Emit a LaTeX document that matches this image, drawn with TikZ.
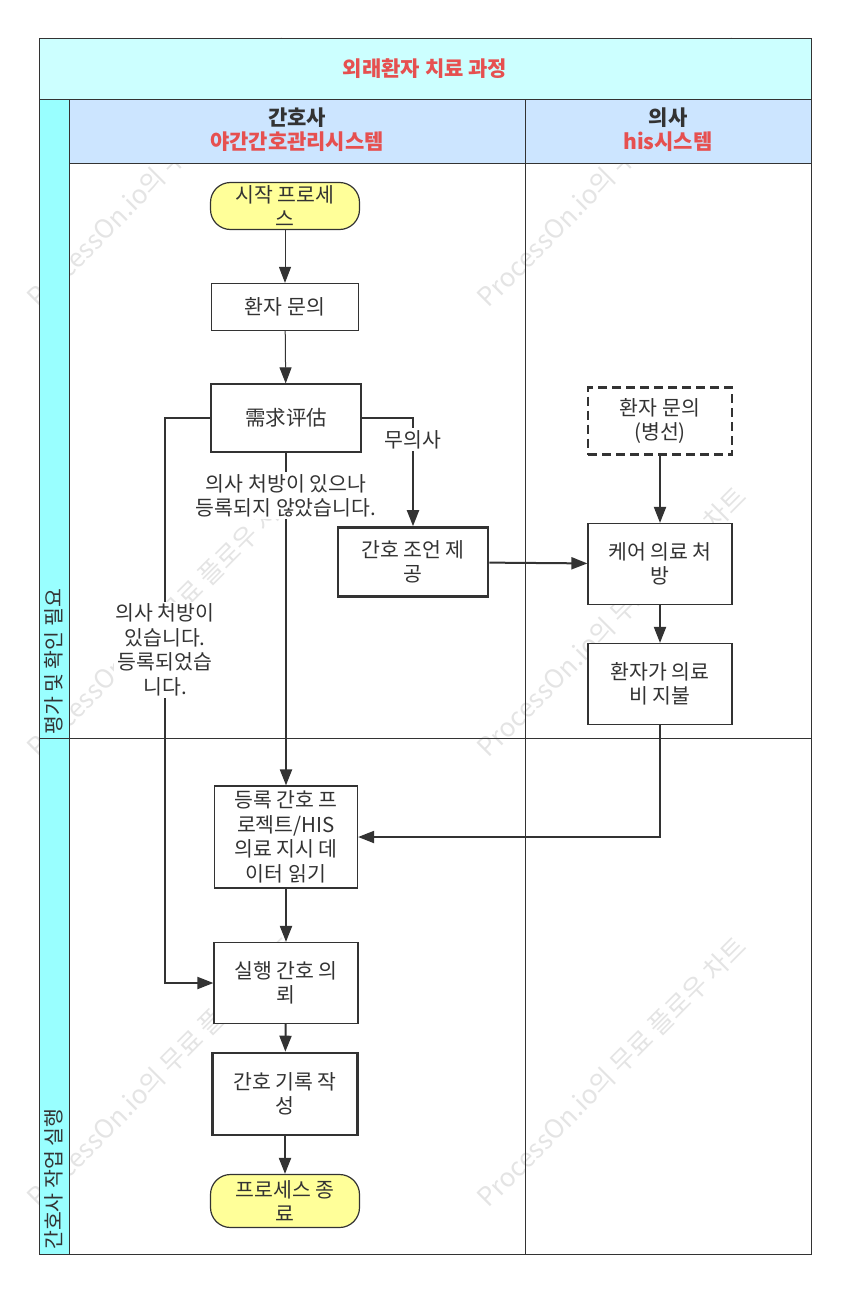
\documentclass[tikz,border=0pt]{standalone}
\usepackage{fontspec}
\setmainfont{Noto Sans CJK KR}
\newfontfamily\hanfont{Noto Sans CJK SC}
\usetikzlibrary{arrows.meta}
\definecolor{TitleCyan}{HTML}{CCFFFF}
\definecolor{StripCyan}{HTML}{99FFFF}
\definecolor{LaneBlue}{HTML}{CCE5FF}
\definecolor{TitleRed}{HTML}{E65050}
\definecolor{StartYellow}{HTML}{FFFF99}
\definecolor{LineDark}{HTML}{333333}
\definecolor{MarkGray}{HTML}{E4E4E4}

\begin{document}
\begin{tikzpicture}[x=1pt, y=-1pt,
  every node/.style={font=\fontsize{20.5}{24.5}\selectfont, text=LineDark, align=center, inner sep=1pt},
  lane/.style={draw=LineDark, line width=1pt},
  stepbox/.style={draw=LineDark, fill=white, line width=1.2pt, minimum width=146, minimum height=81},
  keybox/.style={stepbox, line width=2.6pt},
  ends/.style={stepbox, fill=StartYellow, rounded corners=20pt},
  flow/.style={draw=LineDark, line width=2pt, -{Triangle[length=16pt,width=12pt]}},
  thinflow/.style={flow, line width=1pt},
  cond/.style={fill=white, inner sep=2pt},
  headtext/.style={font=\fontsize{21}{24}\selectfont\bfseries},
  watermarktext/.style={text=MarkGray, rotate=45, anchor=south west, font=\fontsize{26}{30}\selectfont}]
  \useasboundingbox (0,0) rectangle (847,1290);
  % watermark under the lanes
  \foreach \wx in {40,490} {
    \foreach \wy in {312,762,1212} {
      \node[watermarktext] at (\wx,\wy) {ProcessOn.io의 무료 플로우 차트};
    }
  }
  % pool and lanes
  \fill[TitleCyan] (39,39) rectangle (811,99);
  \fill[StripCyan] (39,99) rectangle (69,1254);
  \fill[LaneBlue] (69,99) rectangle (811,163);
  \draw[lane] (39,39) rectangle (811,1254);
  \draw[lane] (39,99) -- (811,99);
  \draw[lane] (69,163) -- (811,163);
  \draw[lane] (69,99) -- (69,1254);
  \draw[lane] (525,99) -- (525,1254);
  \draw[lane] (39,738) -- (811,738);
  \node[headtext, text=TitleRed] (title) at (425,69) {외래환자 치료 과정};
  \node[headtext] (nurse) at (297,130) {간호사\\\textcolor{TitleRed}{야간간호관리시스템}};
  \node[headtext] (doctor) at (668,130) {의사\\\textcolor{TitleRed}{his시스템}};
  \node[rotate=90, anchor=west] (checkrow) at (54,736) {평가 및 확인 필요};
  \node[rotate=90, anchor=west] (workrow) at (54,1251) {간호사 작업 실행};
  % steps
  \node[ends, minimum width=149, minimum height=47] (start) at (285,206) {시작 프로세\\스};
  \node[stepbox, minimum width=147, minimum height=47] (ask) at (285,307) {환자 문의};
  \node[stepbox, minimum width=150, minimum height=68] (assess) at (286,418) {\hanfont 需求评估};
  \node[keybox, minimum width=150, minimum height=69] (advice) at (413,562) {간호 조언 제\\공};
  \node[keybox, dash pattern=on 9pt off 5pt, minimum width=144, minimum height=67] (ward) at (660,421) {환자 문의\\(병선)};
  \node[stepbox, minimum width=144] (order) at (660,564) {케어 의료 처\\방};
  \node[stepbox, minimum width=144] (pay) at (660,684) {환자가 의료\\비 지불};
  \node[stepbox, minimum width=143, minimum height=102] (readorder) at (286,837) {등록 간호 프\\로젝트/HIS\\의료 지시 데\\이터 읽기};
  \node[stepbox, minimum width=144] (execute) at (286,983) {실행 간호 의\\뢰};
  \node[keybox, minimum width=145, minimum height=82] (record) at (285,1094) {간호 기록 작\\성};
  \node[ends, minimum width=149, minimum height=53] (finish) at (285,1201) {프로세스 종\\료};
  \coordinate (yesturn) at (165,418);
  % connectors
  \draw[thinflow] (start) -- (ask);
  \draw[thinflow] (ask) -- (assess);
  \draw[flow] (assess.east) -| (advice.north) node[cond, pos=0.6] {무의사};
  \draw[flow] (assess) -- (readorder) node[cond, pos=0.13] {의사 처방이 있으나\\등록되지 않았습니다.};
  \draw[flow] (assess.west) -- (yesturn) |- (execute.west) node[cond, pos=0.205] {의사 처방이\\있습니다.\\등록되었습\\니다.};
  \draw[flow] (advice) -- (order);
  \draw[flow] (ward) -- (order);
  \draw[flow] (order) -- (pay);
  \draw[flow] (pay.south) |- (readorder.east);
  \draw[flow] (readorder) -- (execute);
  \draw[flow] (execute) -- (record);
  \draw[flow] (record) -- (finish);
\end{tikzpicture}
\end{document}
